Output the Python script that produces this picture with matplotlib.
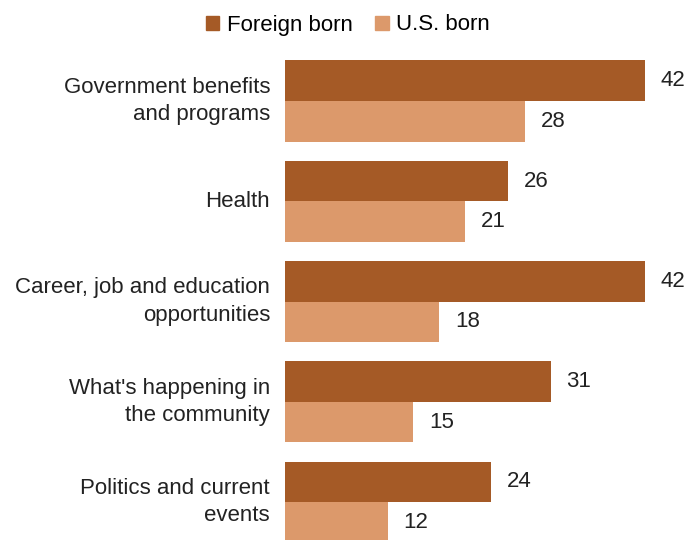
import matplotlib.pyplot as plt
from matplotlib.patches import Patch
import numpy as np

categories = [
    'Government benefits\nand programs',
    'Health',
    'Career, job and education\nopportunities',
    "What's happening in\nthe community",
    'Politics and current\nevents',
]
foreign_born = [42, 26, 42, 31, 24]
us_born = [28, 21, 18, 15, 12]
series_names = ['Foreign born', 'U.S. born']

dark = '#A55A26'
light = '#DC996B'

plt.rcParams['font.family'] = ['Liberation Sans', 'DejaVu Sans']

fig = plt.figure(figsize=(6.9, 5.4), dpi=100)
ax = fig.add_axes([285 / 690, 0, 405 / 690, 1])

y = np.arange(len(categories))
h = 0.404
ax.barh(y - h / 2, foreign_born, height=h, color=dark)
ax.barh(y + h / 2, us_born, height=h, color=light)

ax.set_xlim(0, 405 / 8.565)
ax.set_ylim((540 - 101) / 100.3, -101 / 100.3)
ax.axis('off')

for yi, v in zip(y - h / 2, foreign_born):
    ax.text(v + 1.85, yi, str(v), va='center', ha='left', fontsize=16, color='#222222')
for yi, v in zip(y + h / 2, us_born):
    ax.text(v + 1.85, yi, str(v), va='center', ha='left', fontsize=16, color='#222222')

for yi, label in zip(y, categories):
    ax.text(-1.75, yi, label, va='center', ha='right', fontsize=16,
            color='#222222', linespacing=1.4)

handles = [Patch(color=dark), Patch(color=light)]
fig.legend(handles, series_names, loc='center', bbox_to_anchor=(348 / 690, 1 - 25 / 540),
           ncol=2, frameon=False, fontsize=16, handlelength=0.6, handleheight=0.6,
           handletextpad=0.35, columnspacing=1.0)

fig.savefig('out.png', dpi=100)
